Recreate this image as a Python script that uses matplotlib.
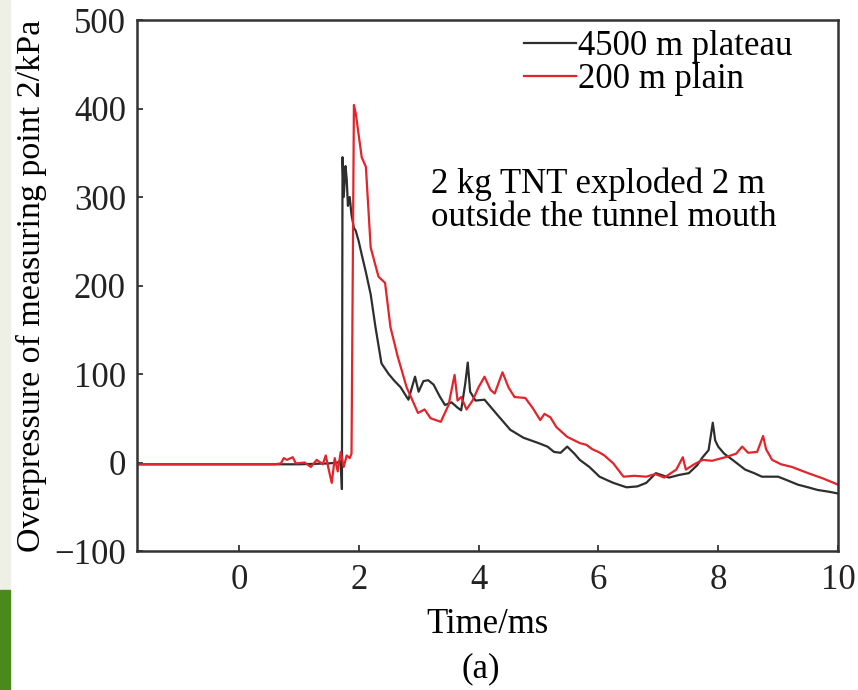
import matplotlib.pyplot as plt
from matplotlib.patches import Rectangle

plt.rcParams['font.family'] = ['Liberation Serif', 'DejaVu Serif']

# 4500 m plateau (black)
t_plat = [-1.7, -1.0, 0.0, 1.0, 1.5, 1.65, 1.70, 1.72, 1.73, 1.75, 1.78, 1.80,
          1.82, 1.85, 1.88, 1.92, 1.95, 2.0, 2.05, 2.12, 2.2, 2.28, 2.38, 2.5,
          2.6, 2.7, 2.83, 2.94, 3.0, 3.08, 3.16, 3.25, 3.35, 3.44, 3.55, 3.65,
          3.71, 3.78, 3.82, 3.86, 3.95, 4.1, 4.3, 4.53, 4.75, 5.0, 5.15, 5.26,
          5.37, 5.48, 5.6, 5.69, 5.85, 6.02, 6.15, 6.25, 6.47, 6.65, 6.8, 6.96,
          7.18, 7.35, 7.51, 7.65, 7.74, 7.84, 7.91, 7.95, 8.0, 8.1, 8.24, 8.45,
          8.6, 8.73, 9.0, 9.15, 9.33, 9.5, 9.66, 9.85, 10.0]
p_plat = [-2, -2, -2, -2, -1, 0, 2, -30, 345, 300, 335, 320,
          290, 300, 280, 265, 262, 250, 235, 215, 190, 153, 112, 100,
          92, 85, 71, 97, 80, 92, 93, 88, 75, 65, 68, 62,
          59, 90, 113, 80, 70, 71, 55, 37, 28, 22, 18, 12,
          11, 18, 10, 3, -5, -16, -20, -23, -28, -27, -23, -12,
          -17, -14, -12, -3, 6, 14, 45, 25, 18, 10, 3, -8,
          -12, -16, -16, -20, -25, -28, -31, -33, -35]

# 200 m plain (red)
t_plain = [-1.7, -1.0, 0.0, 0.6, 0.7, 0.75, 0.8, 0.9, 0.95, 1.1, 1.2, 1.3,
           1.4, 1.45, 1.5, 1.55, 1.6, 1.65, 1.7, 1.75, 1.8, 1.85, 1.88, 1.92,
           1.95, 2.0, 2.05, 2.12, 2.2, 2.33, 2.44, 2.53, 2.65, 2.8, 2.99, 3.1,
           3.2, 3.37, 3.5, 3.6, 3.65, 3.71, 3.8, 3.9, 4.0, 4.1, 4.2, 4.27,
           4.4, 4.5, 4.6, 4.78, 4.9, 5.03, 5.1, 5.2, 5.3, 5.48, 5.69, 5.8,
           5.9, 6.0, 6.1, 6.25, 6.42, 6.6, 6.8, 6.95, 7.1, 7.3, 7.41, 7.46,
           7.6, 7.74, 7.9, 8.12, 8.3, 8.4, 8.5, 8.65, 8.75, 8.8, 8.9, 9.05,
           9.23, 9.5, 9.75, 10.0]
p_plain = [-2, -2, -2, -2, -1, 5, 3, 6, -1, 0, -5, 3,
           -2, 8, -8, -23, 5, -10, 12, -5, 8, 5, 10, 404,
           395, 370, 345, 334, 243, 210, 203, 153, 120, 85, 56, 60,
           50, 46, 65, 99, 70, 74, 60, 70, 85, 97, 82, 78,
           102, 85, 74, 73, 62, 48, 55, 51, 40, 29, 22, 20,
           15, 12, 8, -1, -16, -15, -16, -13, -17, -8, 6, -8,
           -2, 3, 2, 6, 10, 18, 11, 12, 30, 15, 3, -2,
           -5, -12, -18, -25]

x_ticks = [0, 2, 4, 6, 8, 10]
y_ticks = [-100, 0, 100, 200, 300, 400, 500]

FS = 25

fig = plt.figure(figsize=(8.58, 6.9), dpi=100)
ax = fig.add_axes([0.1597, 0.2014, 0.817, 0.7696])

# pale / green strip at the left edge of the source image
fig.patches.append(Rectangle((0, 0.145), 0.012, 0.855, transform=fig.transFigure,
                             color='#eef0e6', zorder=0))
fig.patches.append(Rectangle((0, 0), 0.012, 0.145, transform=fig.transFigure,
                             color='#4a8a1c', zorder=0))

ax.plot(t_plat, p_plat, color='#2e2e2e', lw=1.6, label='4500 m plateau')
ax.plot(t_plain, p_plain, color='#e3242b', lw=1.6, label='200 m plain')

ax.set_xlim(-1.7, 10)
ax.set_ylim(-100, 500)
ax.set_xticks(x_ticks)
ax.set_yticks(y_ticks)
ax.set_yticklabels([str(v).replace('-', '\u2212') for v in y_ticks])
ax.tick_params(direction='in', length=4, width=1.2, labelsize=FS,
               colors='#222222')
ax.tick_params(axis='x', pad=9)
ax.tick_params(axis='y', pad=8)
for s in ax.spines.values():
    s.set_linewidth(1.8)
    s.set_color('#333333')

ax.set_xlabel('Time/ms', fontsize=FS, labelpad=8)
ax.set_ylabel('Overpressure of measuring point 2/kPa', fontsize=24.5)
ax.yaxis.set_label_coords(-0.128, 0.5)

ax.legend(loc='upper right', bbox_to_anchor=(0.96, 1.013), frameon=False,
          fontsize=FS, handlelength=1.5, handletextpad=0.05, labelspacing=0.0,
          borderaxespad=0.2, borderpad=0.3)

ax.text(0.42, 0.659, '2 kg TNT exploded 2 m\noutside the tunnel mouth',
        transform=ax.transAxes, fontsize=FS, va='center', ha='left',
        linespacing=1.0)

fig.text(0.56, 0.031, '(a)', fontsize=FS, ha='center', va='center')

fig.savefig('out.png', dpi=100)
